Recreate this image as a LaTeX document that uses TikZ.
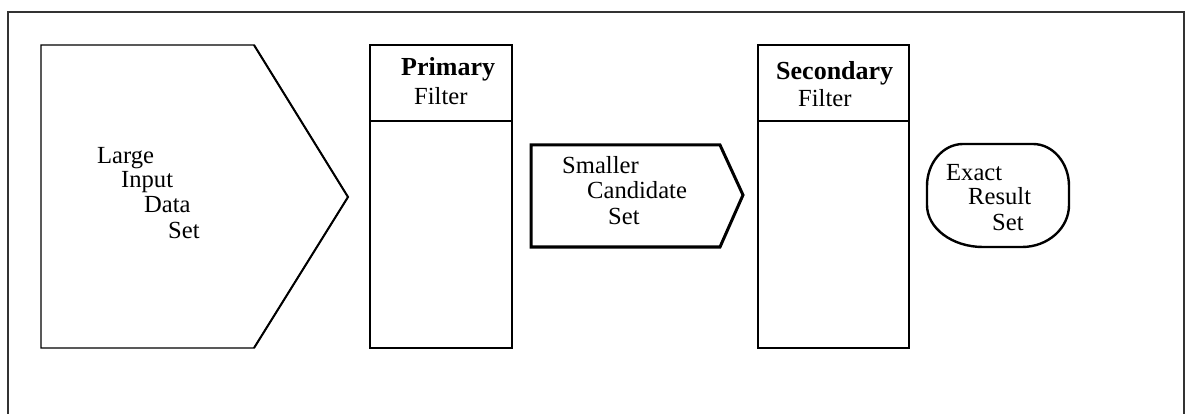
\documentclass[tikz,border=0pt]{standalone}
\usepackage{fontspec}
\setmainfont{Liberation Serif}
\begin{document}
\begin{tikzpicture}[x=1pt,y=-1pt,
  lbl/.style={inner sep=0pt,anchor=base west,font=\fontsize{24.6}{28}\selectfont},
  blbl/.style={lbl,font=\fontsize{26}{30}\selectfont\bfseries},
  thin/.style={draw=black,line width=1.3pt},
  thick/.style={draw=black,line width=3pt},
  mid/.style={draw=black,line width=2.4pt}]
\useasboundingbox (0,0) rectangle (1186,414);
% outer frame, open at the bottom
\draw[draw=black!80,line width=1.5pt] (8,420) -- (8,12) -- (1184,12) -- (1184,420);

% large input data set
\draw[thin,line join=miter] (41,45) -- (254,45) -- (348,197) -- (254,348) -- (41,348) -- cycle;
\draw[draw=black,line width=2pt] (254,45) -- (348,197) -- (254,348);
\node[lbl] (large) at (97,164) {Large};
\node[lbl] (input) at (121,188) {Input};
\node[lbl] (data)  at (144,213) {Data};
\node[lbl] (set1)  at (168,239) {Set};

% primary filter
\draw[thin] (370,45) rectangle (512,348);
\draw[thin] (370,121) -- (512,121);
\node[blbl] (primary) at (401,76) {Primary};
\node[lbl] (pfilter) at (414,105) {Filter};

% smaller candidate set
\draw[thick] (531,145) -- (720,145) -- (743,195) -- (720,247) -- (531,247) -- cycle;
\node[lbl] (smaller)   at (562,174) {Smaller};
\node[lbl] (candidate) at (587,199) {Candidate};
\node[lbl] (set2)      at (608,225) {Set};

% secondary filter
\draw[mid] (758,45) rectangle (909,348);
\draw[thin] (758,121) -- (909,121);
\node[blbl] (secondary) at (776,80) {Secondary};
\node[lbl] (sfilter) at (798,107) {Filter};

% exact result set
\draw[mid] (963,144) -- (1033,144)
  arc[start angle=90,end angle=0,x radius=36,y radius=-42] -- (1069,205)
  arc[start angle=0,end angle=-90,x radius=47,y radius=-42] -- (983,247)
  arc[start angle=270,end angle=180,x radius=56,y radius=-42] -- (927,186)
  arc[start angle=180,end angle=90,x radius=36,y radius=-42] -- cycle;
\node[lbl] (exact)  at (946,181) {Exact};
\node[lbl] (result) at (968,205) {Result};
\node[lbl] (set3)   at (992,231) {Set};
\end{tikzpicture}
\end{document}
